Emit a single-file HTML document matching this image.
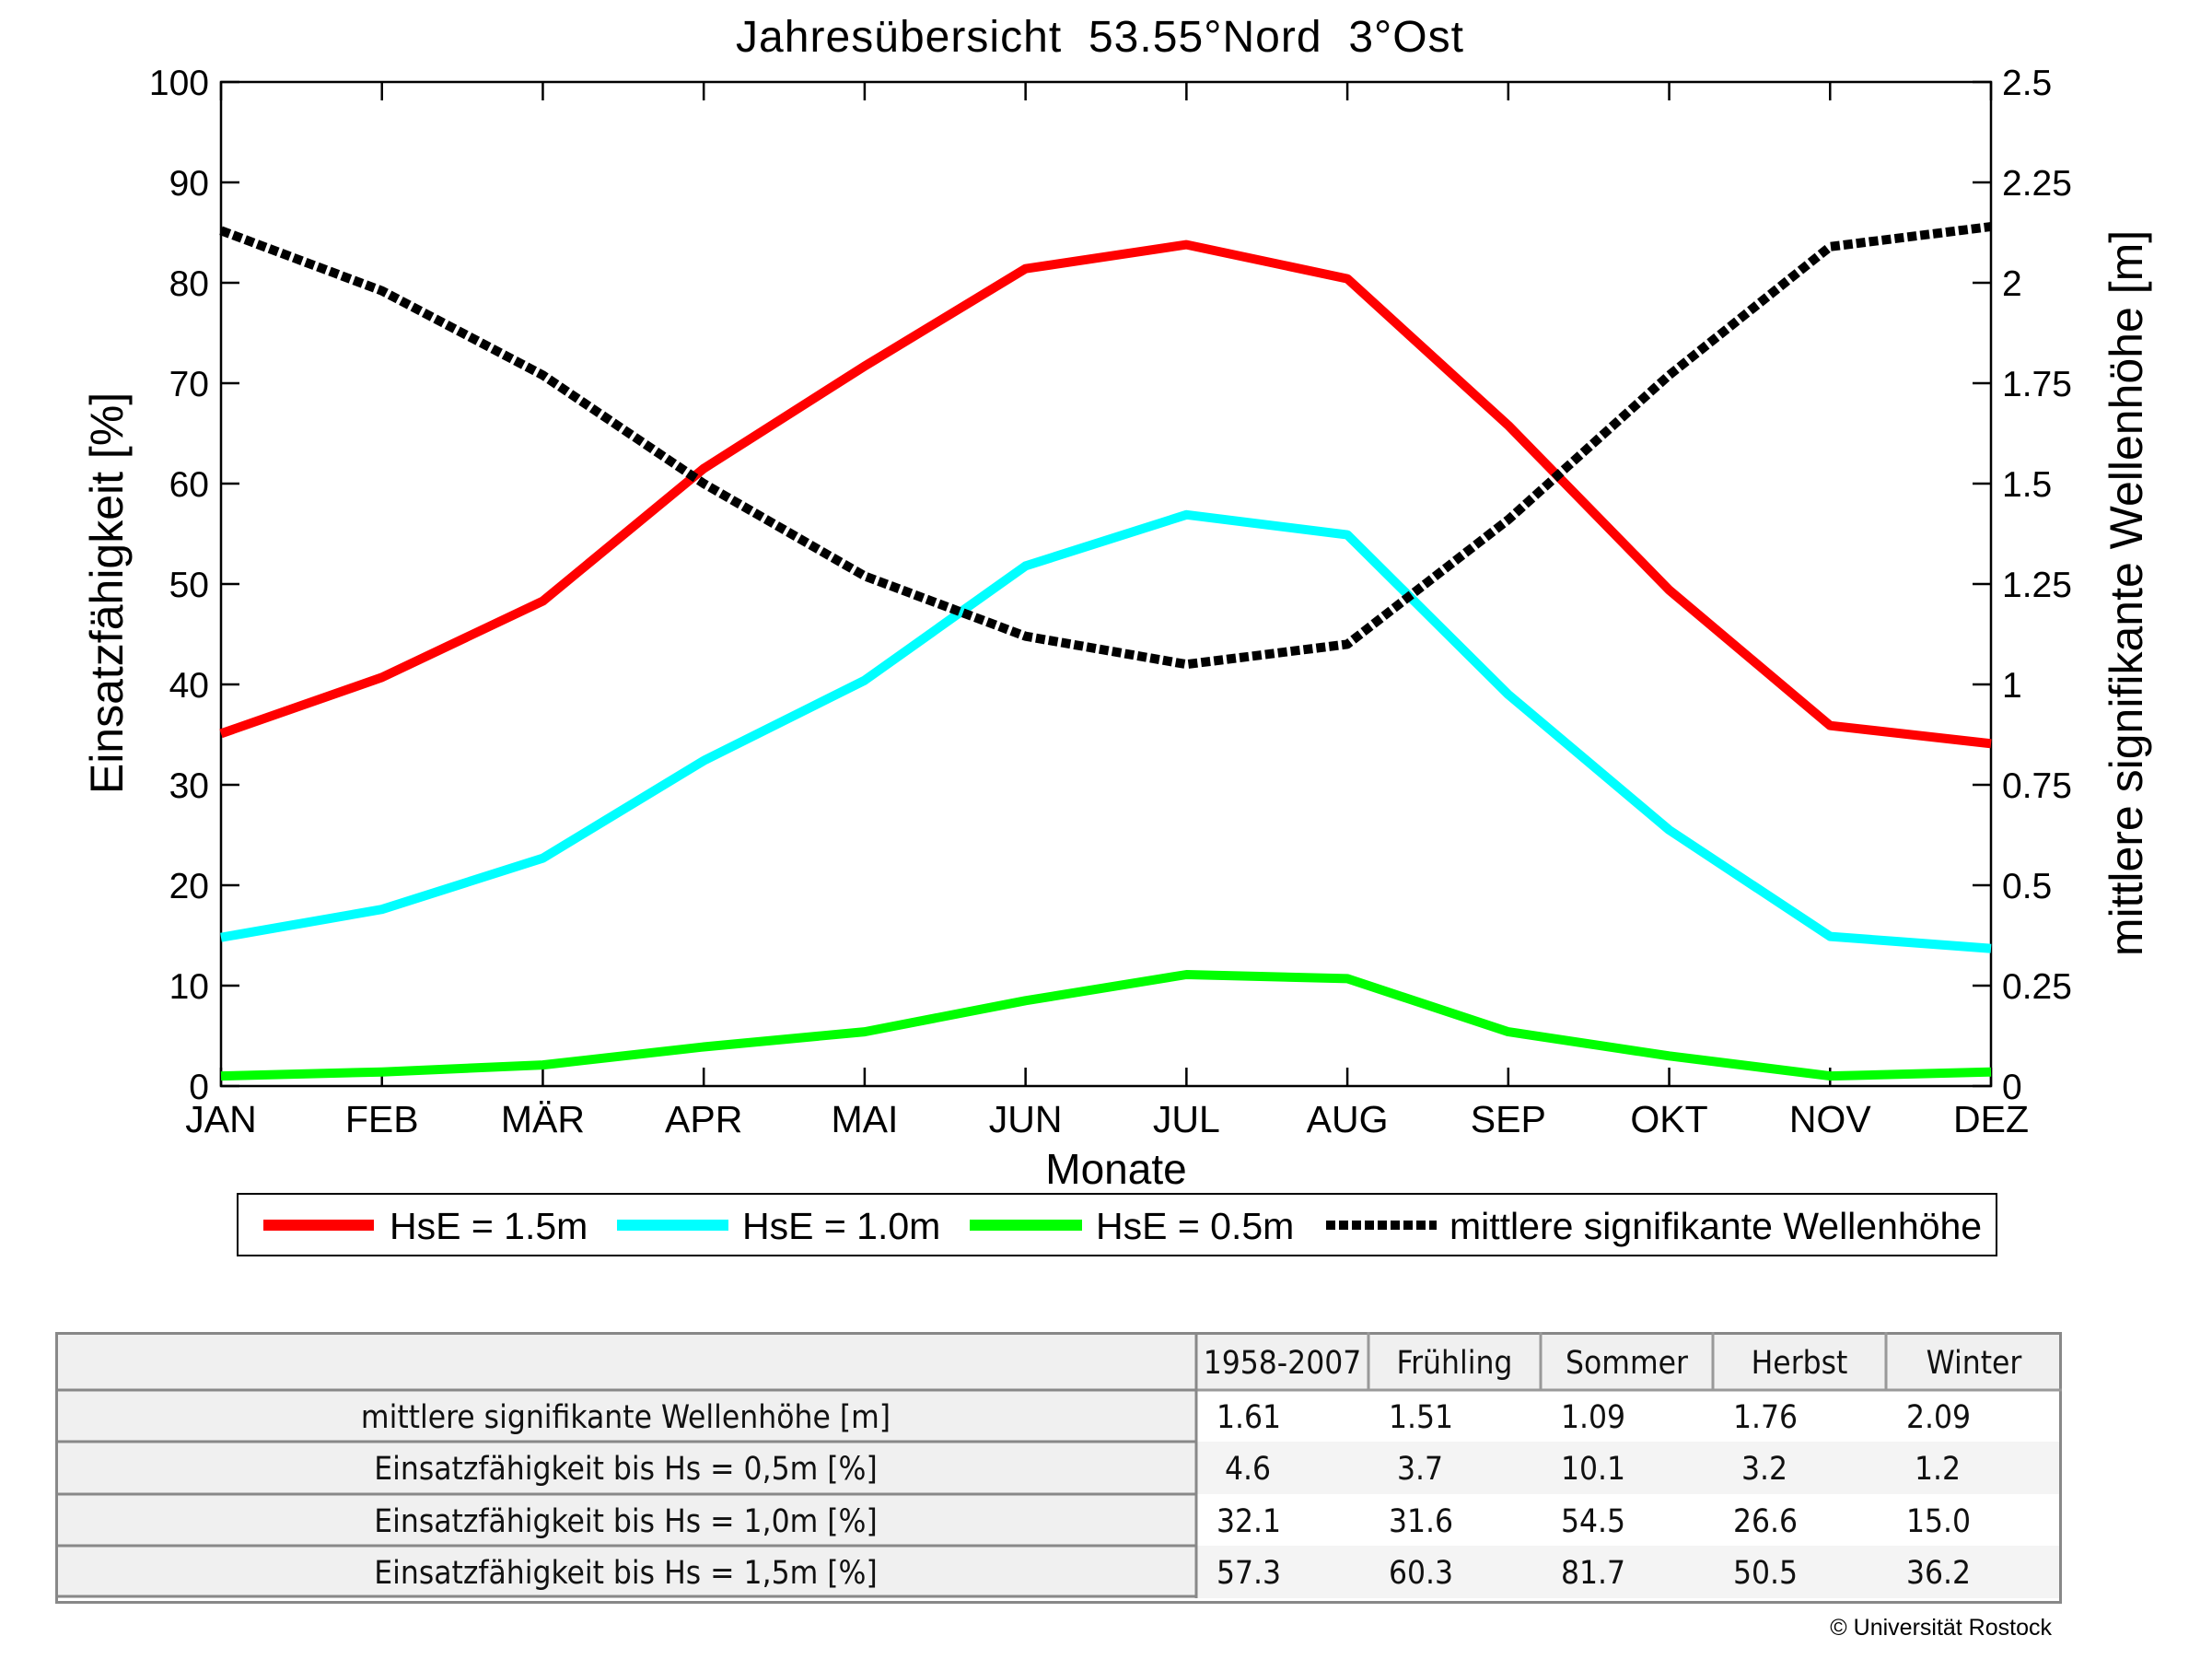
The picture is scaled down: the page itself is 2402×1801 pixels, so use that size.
<!DOCTYPE html>
<html><head><meta charset="utf-8"><style>
html,body{margin:0;padding:0;background:#fff;width:2402px;height:1801px;overflow:hidden}
svg{display:block}
.t{font-family:"Liberation Sans",Arial,sans-serif;fill:#000}
.tb{font-family:"DejaVu Sans Condensed","DejaVu Sans","Liberation Sans",sans-serif;fill:#111;font-size:35px}
</style></head><body>
<svg id="chart" width="2402" height="1801" viewBox="0 0 2402 1801" xmlns="http://www.w3.org/2000/svg">
<text class="t" x="1194" y="56" font-size="48" text-anchor="middle" textLength="790" xml:space="preserve">Jahresübersicht  53.55°Nord  3°Ost</text>
<g id="plot"></g>
<text class="t" x="1212" y="1285" font-size="46" text-anchor="middle">Monate</text>
<text class="t" transform="translate(133,644) rotate(-90)" font-size="50" text-anchor="middle">Einsatzfähigkeit [%]</text>
<text class="t" transform="translate(2326,644) rotate(-90)" font-size="50" text-anchor="middle">mittlere signifikante Wellenhöhe [m]</text>
<g>
<rect x="258" y="1296" width="1910" height="67" fill="#fff" stroke="#000" stroke-width="2"/>
<g><line x1="286" y1="1330" x2="406" y2="1330" stroke="#ff0000" stroke-width="12"/><text class="t" x="423" y="1345" font-size="41">HsE = 1.5m</text></g>
<g><line x1="670" y1="1330" x2="791" y2="1330" stroke="#00ffff" stroke-width="12"/><text class="t" x="806" y="1345" font-size="41">HsE = 1.0m</text></g>
<g><line x1="1053" y1="1330" x2="1175" y2="1330" stroke="#00ff00" stroke-width="12"/><text class="t" x="1190" y="1345" font-size="41">HsE = 0.5m</text></g>
<g><line x1="1440" y1="1330" x2="1560" y2="1330" stroke="#000" stroke-width="10" stroke-dasharray="10 4"/><text class="t" x="1574" y="1345" font-size="41">mittlere signifikante Wellenhöhe</text></g>
</g>
<g id="table"></g>
<text class="t" x="2228" y="1775" font-size="25" text-anchor="end">© Universität Rostock</text>
</svg>
<script>
const months = ["JAN","FEB","MÄR","APR","MAI","JUN","JUL","AUG","SEP","OKT","NOV","DEZ"];
const hse15 = [35.1,40.7,48.3,61.5,71.7,81.4,83.8,80.4,65.8,49.4,35.9,34.1];
const hse10 = [14.8,17.6,22.7,32.4,40.4,51.8,56.9,54.9,39.0,25.5,14.9,13.7];
const hse05 = [1.0,1.4,2.1,3.9,5.4,8.5,11.1,10.7,5.4,3.0,1.0,1.4];
const waveHeight = [2.13,1.98,1.77,1.50,1.27,1.12,1.05,1.10,1.41,1.77,2.09,2.14];
const leftTicks = [0,10,20,30,40,50,60,70,80,90,100];
const rightTicks = ["0","0.25","0.5","0.75","1","1.25","1.5","1.75","2","2.25","2.5"];
const tableHeaders = ["","1958-2007","Frühling","Sommer","Herbst","Winter"];
const tableRowLabels = ["mittlere signifikante Wellenhöhe [m]","Einsatzfähigkeit bis Hs = 0,5m [%]","Einsatzfähigkeit bis Hs = 1,0m [%]","Einsatzfähigkeit bis Hs = 1,5m [%]"];
const tableValues = [["1.61","1.51","1.09","1.76","2.09"],[" 4.6"," 3.7","10.1"," 3.2"," 1.2"],["32.1","31.6","54.5","26.6","15.0"],["57.3","60.3","81.7","50.5","36.2"]];

const NS="http://www.w3.org/2000/svg";
const L=240,R=2162,T=89,B=1179;
const xS=i=>L+(R-L)*i/(months.length-1);
const yL=v=>B-(B-T)*v/100;
const yR=v=>B-(B-T)*v/2.5;
function mk(tag,attrs,parent){const e=document.createElementNS(NS,tag);for(const k in attrs)e.setAttribute(k,attrs[k]);parent.appendChild(e);return e;}
const plot=document.getElementById('plot');
let fr=mk('rect',{x:L,y:T,width:R-L,height:B-T,fill:'none',stroke:'#000','stroke-width':2.5},plot);


leftTicks.forEach(v=>{
  const y=yL(v);
  const tk=mk('line',{x1:L,y1:y,x2:L+20,y2:y,stroke:'#000','stroke-width':2.5},plot);
  
  
  const tx=mk('text',{class:'t',x:227,y:y+14,'font-size':39,'text-anchor':'end'},plot);
  tx.textContent=v;
  
  
});
rightTicks.forEach((s,i)=>{
  const y=yR(parseFloat(s));
  const tk=mk('line',{x1:R-20,y1:y,x2:R,y2:y,stroke:'#000','stroke-width':2.5},plot);
  
  
  const tx=mk('text',{class:'t',x:2174,y:y+14,'font-size':39},plot);
  tx.textContent=s;
  
  
});
months.forEach((m,i)=>{
  const x=xS(i);
  const t1=mk('line',{x1:x,y1:T,x2:x,y2:T+20,stroke:'#000','stroke-width':2.5},plot);
  
  
  const t2=mk('line',{x1:x,y1:B-20,x2:x,y2:B,stroke:'#000','stroke-width':2.5},plot);
  
  
  const tx=mk('text',{class:'t',x:x,y:1229,'font-size':41,'text-anchor':'middle'},plot);
  tx.textContent=m;
  
  
});
function series(vals,yf,color,w,dash,name){
  const d=vals.map((v,i)=>(i?'L':'M')+xS(i).toFixed(1)+','+yf(v).toFixed(1)).join(' ');
  const p=mk('path',{d:d,fill:'none',stroke:color,'stroke-width':w,'stroke-linejoin':'round'},plot);
  if(dash)p.setAttribute('stroke-dasharray',dash);
  
  
}
series(hse15,yL,'#ff0000',10,null,'line-hse-1-5');
series(hse10,yL,'#00ffff',10,null,'line-hse-1-0');
series(hse05,yL,'#00ff00',10,null,'line-hse-0-5');
series(waveHeight,yR,'#000',10,'10 4','line-mean-wave-height');

const tb=document.getElementById('table');
const colX=[60,1299,1486,1673,1860,2048,2239];
const rowY=[1446,1509,1565,1622,1678,1735];
for(let r=0;r<5;r++){
  for(let c=0;c<6;c++){
    let fill = (r===0||c===0)?'#f0f0f0':(r%2===1?'#ffffff':'#f4f4f4');
    const cell=mk('rect',{x:colX[c],y:rowY[r],width:colX[c+1]-colX[c],height:rowY[r+1]-rowY[r],fill:fill},tb);
    
    
  }
}
mk('rect',{x:61.5,y:1447.5,width:2176,height:292,fill:'none',stroke:'#888','stroke-width':3},tb);
for(let r=1;r<5;r++) mk('line',{x1:60,y1:rowY[r],x2:colX[1],y2:rowY[r],stroke:'#888','stroke-width':3},tb);
mk('line',{x1:60,y1:1733,x2:colX[1],y2:1733,stroke:'#888','stroke-width':3},tb);
mk('line',{x1:colX[1],y1:rowY[1],x2:2239,y2:rowY[1],stroke:'#999','stroke-width':3},tb);
mk('line',{x1:colX[1],y1:1446,x2:colX[1],y2:1735,stroke:'#888','stroke-width':3},tb);
for(let c=2;c<6;c++) mk('line',{x1:colX[c],y1:1446,x2:colX[c],y2:rowY[1],stroke:'#999','stroke-width':3},tb);
tableHeaders.forEach((h,c)=>{
  if(!h)return;
  const tx=mk('text',{class:'tb',x:(colX[c]+colX[c+1])/2,y:1491,'text-anchor':'middle'},tb);
  tx.textContent=h;
  
  
});
tableRowLabels.forEach((lab,r)=>{
  const tx=mk('text',{class:'tb',x:(colX[0]+colX[1])/2,y:rowY[r+1]+41,'text-anchor':'middle'},tb);
  tx.textContent=lab;
  
  
  tableValues[r].forEach((v,c)=>{
    const pad=v.startsWith(' ')?9:0;
    const t2=mk('text',{class:'tb',x:colX[c+1]+22+pad,y:rowY[r+1]+41},tb);
    t2.textContent=v.trim();
    
    
  });
});
</script>
</body></html>
